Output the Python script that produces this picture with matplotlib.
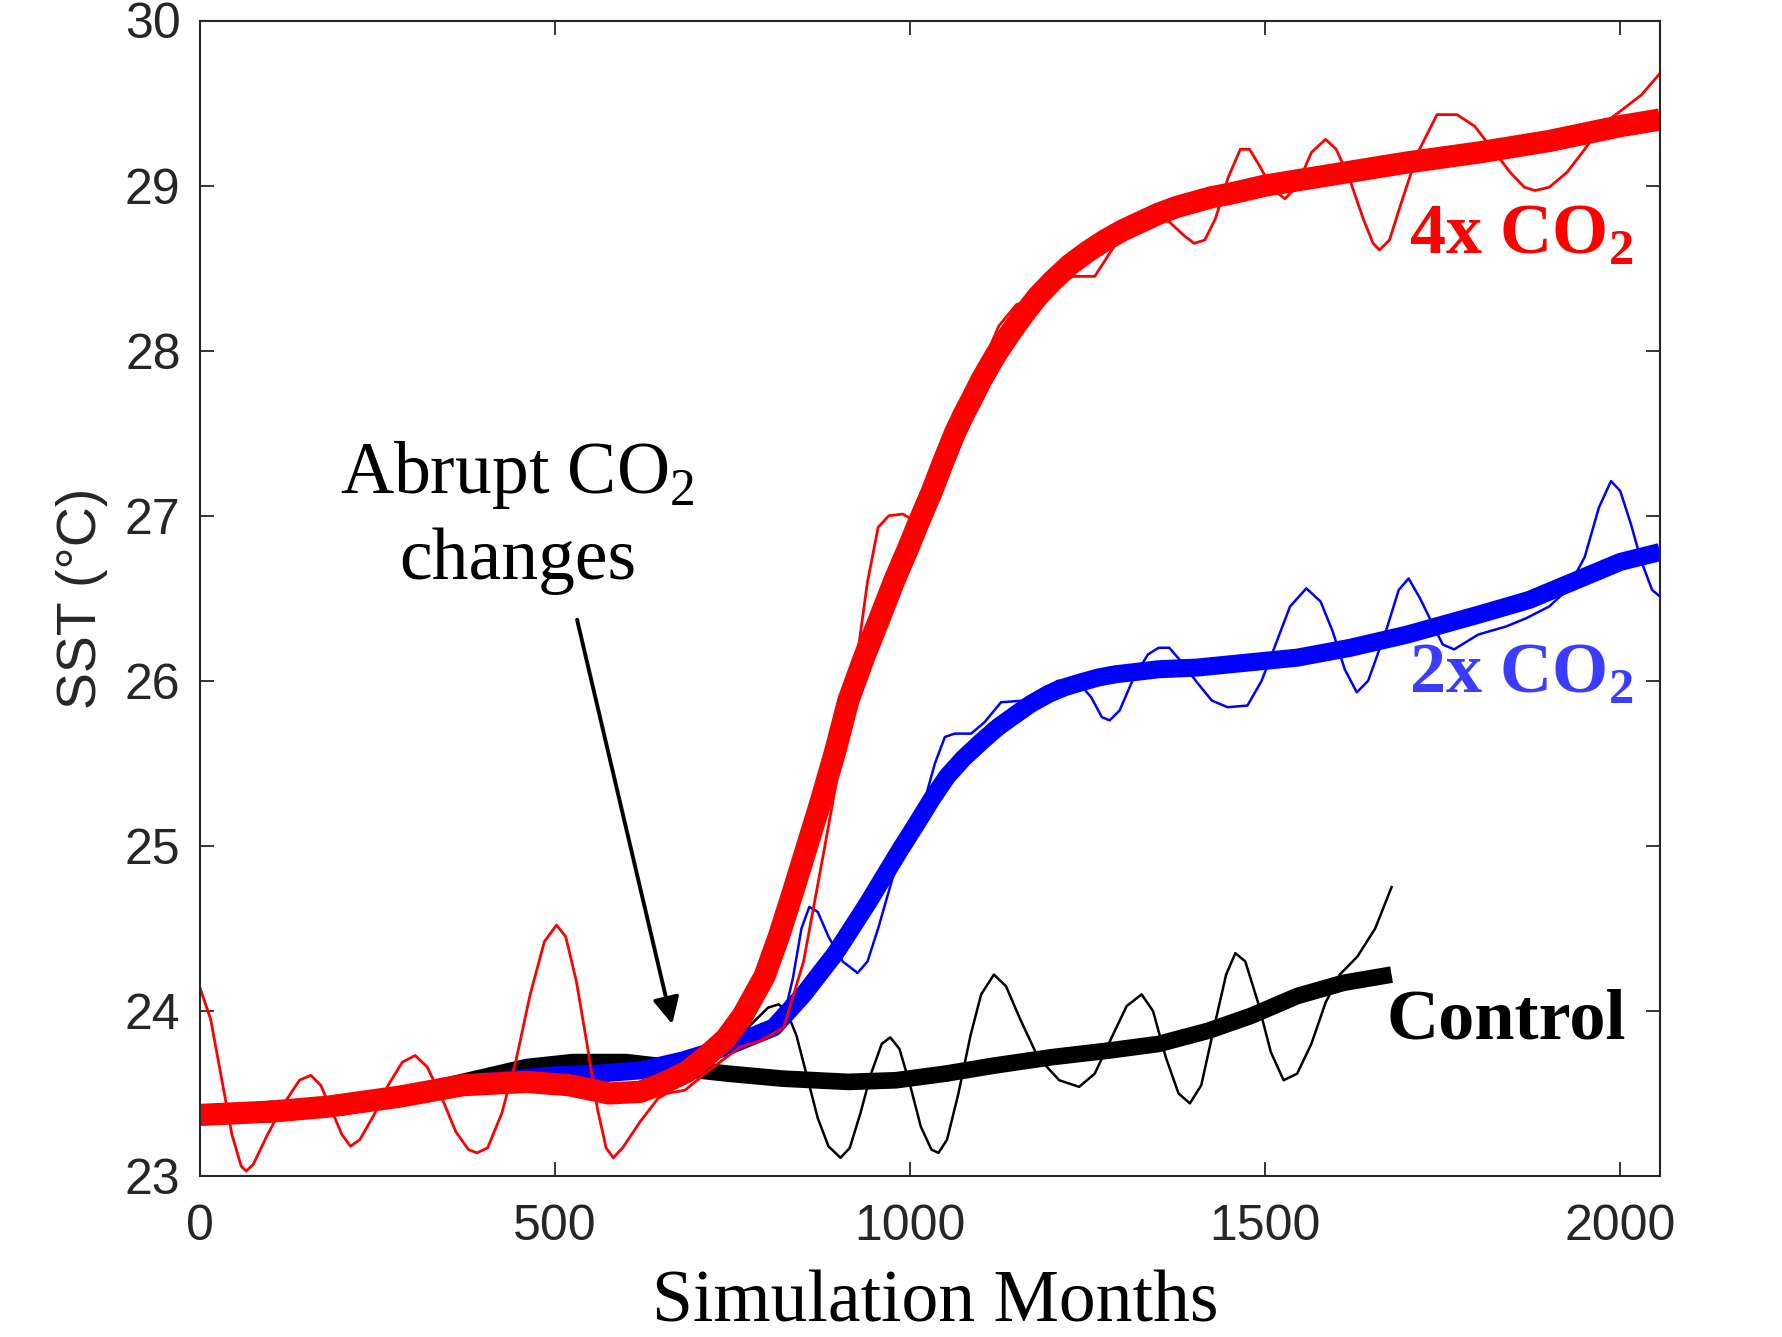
import numpy as np
import matplotlib
matplotlib.use("Agg")
import matplotlib.pyplot as plt

plt.rcParams["mathtext.fontset"] = "custom"
plt.rcParams["mathtext.rm"] = "Liberation Serif"
plt.rcParams["mathtext.bf"] = "Liberation Serif:bold"

# ---- data (simulation month, SST in degC) ----
ctrl_smooth_x = [0, 100, 200, 300, 400, 460, 525, 600, 680, 744, 820, 913, 980, 1050,
                 1120, 1200, 1280, 1350, 1420, 1480, 1545, 1610, 1678]
ctrl_smooth_y = [23.37, 23.38, 23.42, 23.50, 23.60, 23.66, 23.69, 23.69, 23.65, 23.62, 23.59,
                 23.57, 23.58, 23.62, 23.67, 23.72, 23.76, 23.80, 23.88, 23.97, 24.09, 24.17, 24.22]

ctrl_raw_x = [0, 100, 200, 300, 400, 500, 600, 700, 760, 800, 815, 826, 840, 855, 870, 885,
              902, 915, 930, 945, 960, 972, 985, 1000, 1015, 1030, 1040, 1052, 1068, 1085,
              1100, 1118, 1135, 1155, 1180, 1210, 1238, 1260, 1285, 1305, 1326, 1342, 1360,
              1378, 1394, 1410, 1428, 1445, 1458, 1472, 1490, 1508, 1526, 1545, 1565, 1585,
              1605, 1630, 1655, 1678]
ctrl_raw_y = [23.40, 23.45, 23.40, 23.50, 23.62, 23.70, 23.68, 23.70, 23.85, 24.02, 24.04,
              24.00, 23.85, 23.60, 23.35, 23.18, 23.11, 23.17, 23.38, 23.62, 23.80, 23.84,
              23.77, 23.55, 23.30, 23.16, 23.14, 23.22, 23.50, 23.85, 24.10, 24.22, 24.15,
              23.95, 23.72, 23.58, 23.54, 23.62, 23.85, 24.03, 24.10, 24.00, 23.72, 23.50,
              23.44, 23.55, 23.90, 24.22, 24.35, 24.30, 24.05, 23.75, 23.58, 23.62, 23.80,
              24.05, 24.22, 24.33, 24.50, 24.75]

co2x2_smooth_x = [0, 100, 200, 300, 400, 500, 560, 620, 680, 740, 808, 850, 895, 940, 985,
                  1010, 1030, 1052, 1075, 1100, 1124, 1150, 1170, 1195, 1217, 1240, 1265,
                  1290, 1311, 1350, 1404, 1545, 1620, 1700, 1800, 1872, 1950, 2000, 2056]
co2x2_smooth_y = [23.37, 23.38, 23.42, 23.50, 23.57, 23.61, 23.62, 23.64, 23.70, 23.78, 23.90,
                  24.10, 24.35, 24.65, 24.97, 25.14, 25.28, 25.42, 25.53, 25.63, 25.72, 25.80,
                  25.86, 25.92, 25.96, 25.99, 26.02, 26.04, 26.05, 26.07, 26.08, 26.14, 26.20,
                  26.28, 26.40, 26.49, 26.63, 26.72, 26.78]

co2x2_raw_x = [0, 100, 200, 300, 400, 500, 600, 680, 742, 790, 822, 835, 847, 858, 870, 885,
               905, 926, 940, 955, 975, 1000, 1022, 1035, 1049, 1063, 1086, 1105, 1128, 1160,
               1185, 1208, 1235, 1255, 1270, 1281, 1295, 1315, 1335, 1350, 1365, 1385, 1404,
               1425, 1447, 1475, 1495, 1512, 1535, 1558, 1578, 1595, 1612, 1629, 1645, 1670,
               1688, 1702, 1718, 1735, 1750, 1766, 1800, 1840, 1868, 1900, 1925, 1950, 1970,
               1987, 2000, 2015, 2030, 2045, 2056]
co2x2_raw_y = [23.40, 23.40, 23.45, 23.52, 23.58, 23.60, 23.62, 23.68, 23.80, 23.85, 23.96,
               24.20, 24.50, 24.63, 24.60, 24.45, 24.30, 24.23, 24.30, 24.50, 24.80, 25.10,
               25.30, 25.50, 25.66, 25.68, 25.68, 25.75, 25.87, 25.88, 25.95, 26.00, 26.00,
               25.90, 25.78, 25.76, 25.82, 26.02, 26.16, 26.20, 26.20, 26.10, 25.99, 25.88,
               25.84, 25.85, 26.00, 26.19, 26.45, 26.56, 26.48, 26.30, 26.07, 25.93, 26.00,
               26.30, 26.55, 26.62, 26.50, 26.35, 26.22, 26.19, 26.28, 26.33, 26.38, 26.45,
               26.55, 26.75, 27.05, 27.21, 27.15, 26.95, 26.72, 26.55, 26.51]

co2x4_smooth_x = [0, 100, 180, 280, 370, 460, 520, 576, 620, 651, 685, 714, 740, 764, 795,
                  815, 835, 855, 875, 895, 913, 935, 959, 978, 997, 1013, 1030, 1047, 1063,
                  1075, 1086, 1100, 1120, 1140, 1160, 1180, 1200, 1225, 1250, 1275, 1300,
                  1325, 1350, 1375, 1400, 1425, 1450, 1500, 1600, 1700, 1800, 1900, 2000, 2056]
co2x4_smooth_y = [23.37, 23.39, 23.42, 23.48, 23.55, 23.57, 23.55, 23.50, 23.51, 23.56, 23.63,
                  23.73, 23.83, 23.97, 24.21, 24.45, 24.72, 25.00, 25.28, 25.58, 25.88, 26.14,
                  26.40, 26.61, 26.80, 26.97, 27.14, 27.33, 27.50, 27.61, 27.70, 27.82, 27.97,
                  28.10, 28.22, 28.33, 28.42, 28.52, 28.60, 28.67, 28.73, 28.78, 28.83, 28.87,
                  28.90, 28.93, 28.95, 29.00, 29.07, 29.14, 29.20, 29.27, 29.36, 29.40]

co2x4_raw_x = [0, 15, 30, 45, 58, 65, 75, 95, 120, 140, 156, 170, 185, 200, 212, 225, 245,
               265, 285, 303, 320, 340, 360, 378, 390, 405, 425, 445, 465, 485, 502, 515, 530,
               545, 560, 572, 582, 595, 620, 645, 657, 683, 720, 760, 790, 822, 850, 880, 905,
               924, 940, 955, 970, 990, 1005, 1020, 1045, 1070, 1100, 1125, 1150, 1175, 1200,
               1230, 1260, 1290, 1320, 1345, 1365, 1385, 1400, 1415, 1430, 1448, 1465, 1478,
               1492, 1510, 1528, 1545, 1565, 1585, 1600, 1618, 1638, 1652, 1661, 1675, 1692,
               1715, 1742, 1770, 1795, 1820, 1845, 1865, 1880, 1900, 1925, 1950, 1975, 2000,
               2030, 2056]
co2x4_raw_y = [24.14, 23.95, 23.60, 23.25, 23.06, 23.03, 23.07, 23.25, 23.45, 23.58, 23.61,
               23.55, 23.40, 23.25, 23.18, 23.22, 23.37, 23.55, 23.69, 23.73, 23.66, 23.48,
               23.27, 23.16, 23.14, 23.17, 23.38, 23.70, 24.10, 24.42, 24.52, 24.45, 24.18,
               23.80, 23.40, 23.17, 23.11, 23.17, 23.33, 23.47, 23.50, 23.52, 23.65, 23.78,
               23.82, 23.90, 24.30, 25.00, 25.60, 26.10, 26.60, 26.93, 27.00, 27.01, 26.97,
               26.97, 27.30, 27.60, 27.90, 28.15, 28.28, 28.30, 28.40, 28.45, 28.45, 28.65,
               28.80, 28.82, 28.78, 28.70, 28.65, 28.67, 28.80, 29.05, 29.22, 29.22, 29.12,
               28.98, 28.92, 29.00, 29.20, 29.28, 29.22, 29.05, 28.80, 28.65, 28.61, 28.67,
               28.90, 29.20, 29.43, 29.43, 29.36, 29.22, 29.08, 28.99, 28.97, 28.99, 29.08,
               29.22, 29.37, 29.45, 29.55, 29.68]

x_ticks = [0, 500, 1000, 1500, 2000]
y_ticks = [23, 24, 25, 26, 27, 28, 29, 30]

axis_grey = "#262626"
serif = "Liberation Serif"
sans = "Liberation Sans"

fig = plt.figure(figsize=(17.83, 13.37), dpi=100)
ax = fig.add_axes([200 / 1783, 1 - 1176 / 1337, 1460 / 1783, 1155.5 / 1337])

# control, then 2x, then 4x (raw thin line under each smoothed thick line)
ax.plot(ctrl_raw_x, ctrl_raw_y, color="black", lw=1.8)
ax.plot(ctrl_smooth_x, ctrl_smooth_y, color="black", lw=12, solid_capstyle="butt",
        solid_joinstyle="round")
ax.plot(co2x2_raw_x, co2x2_raw_y, color="#0000ff", lw=1.8)
ax.plot(co2x2_smooth_x, co2x2_smooth_y, color="#0000ff", lw=13, solid_capstyle="butt",
        solid_joinstyle="round")
ax.plot(co2x4_raw_x, co2x4_raw_y, color="#ff0000", lw=2.0)
ax.plot(co2x4_smooth_x, co2x4_smooth_y, color="#ff0000", lw=16, solid_capstyle="butt",
        solid_joinstyle="round")

ax.set_xlim(0, 2056)
ax.set_ylim(23, 30)
ax.set_xticks(x_ticks)
ax.set_yticks(y_ticks)
ax.tick_params(direction="in", length=10, width=1.3, top=True, right=True,
               colors=axis_grey, labelsize=36)
ax.tick_params(axis="x", pad=20)
ax.tick_params(axis="y", pad=14)
for lab in ax.get_xticklabels() + ax.get_yticklabels():
    lab.set_fontfamily(sans)
for sp in ax.spines.values():
    sp.set_color(axis_grey)
    sp.set_linewidth(1.5)

fig.text(935 / 1783, 15 / 1337, "Simulation Months", ha="center", va="baseline",
         fontsize=53, family=serif, color="black")
fig.text(82 / 1783, 1 - 598 / 1337, "SST (°C)", rotation=90, ha="center", va="center",
         fontsize=40, family=sans, color=axis_grey)

# annotations
ax.annotate("", xy=(665, 23.92), xytext=(531, 26.37),
            arrowprops=dict(arrowstyle="-|>", color="black", lw=2.8,
                            mutation_scale=40, shrinkA=0, shrinkB=0))
ax.text(447, 26.99, "Abrupt CO$_2$\nchanges", ha="center", va="center",
        fontsize=53, family=serif, color="black", linespacing=1.32)

ax.text(2018, 28.59, r"4x CO$_\mathbf{2}$", ha="right", va="baseline",
        fontsize=52, family=serif, weight="bold", color="#ff0000")
ax.text(2018, 25.93, r"2x CO$_\mathbf{2}$", ha="right", va="baseline",
        fontsize=52, family=serif, weight="bold", color="#3c3cff")
ax.text(2008, 23.83, "Control", ha="right", va="baseline",
        fontsize=52, family=serif, weight="bold", color="black")

fig.savefig("out.png", dpi=100)
